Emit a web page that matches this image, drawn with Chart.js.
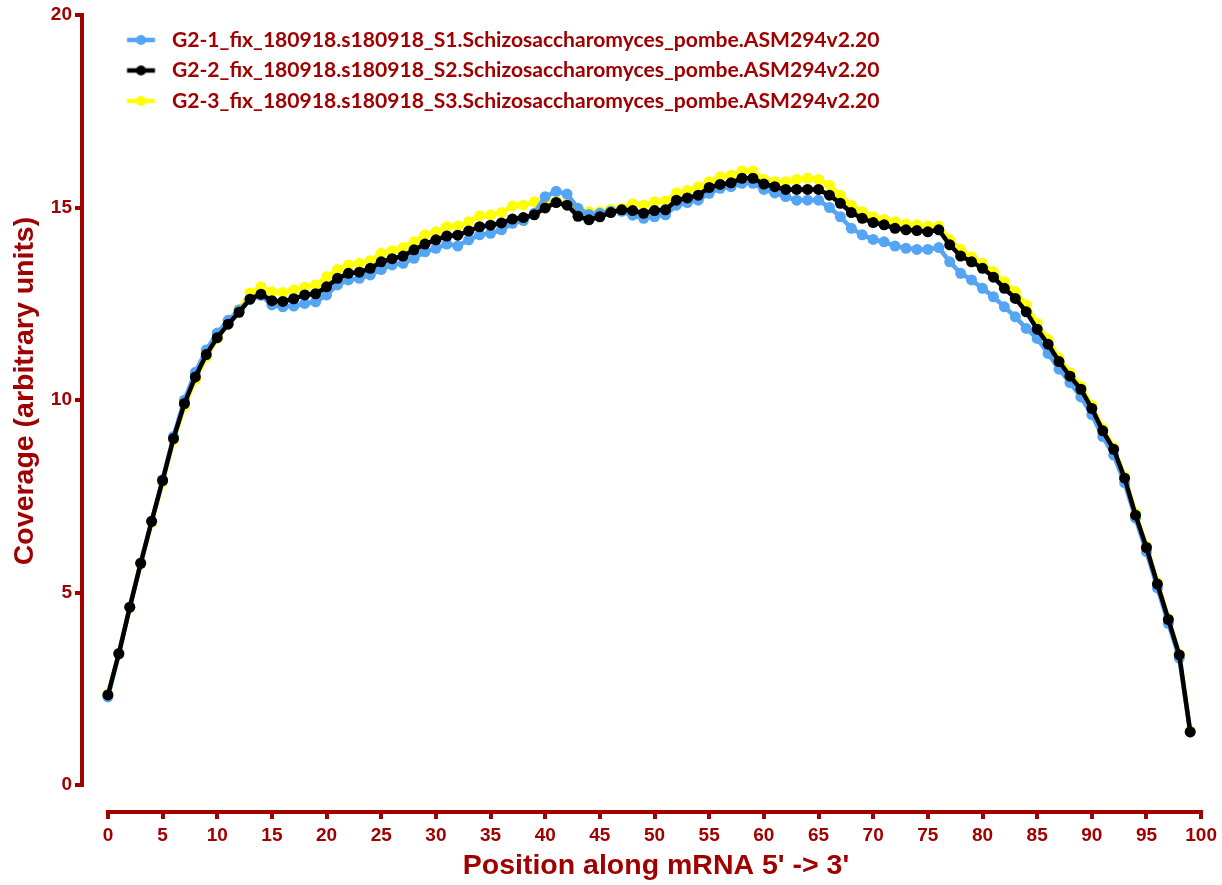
<!DOCTYPE html>
<html><head><meta charset="utf-8">
<script src="https://cdn.jsdelivr.net/npm/chart.js@4"></script>
<style>html,body{margin:0;padding:0;background:#fff}#wrap{width:1222px;height:885px;position:relative}</style>
</head><body><div id="wrap"><canvas id="c" width="1222" height="885"></canvas></div>
<script>
const positions = [0,1,2,3,4,5,6,7,8,9,10,11,12,13,14,15,16,17,18,19,20,21,22,23,24,25,26,27,28,29,30,31,32,33,34,35,36,37,38,39,40,41,42,43,44,45,46,47,48,49,50,51,52,53,54,55,56,57,58,59,60,61,62,63,64,65,66,67,68,69,70,71,72,73,74,75,76,77,78,79,80,81,82,83,84,85,86,87,88,89,90,91,92,93,94,95,96,97,98,99];

const seriesLabels = [
  "G2-1_fix_180918.s180918_S1.Schizosaccharomyces_pombe.ASM294v2.20",
  "G2-2_fix_180918.s180918_S2.Schizosaccharomyces_pombe.ASM294v2.20",
  "G2-3_fix_180918.s180918_S3.Schizosaccharomyces_pombe.ASM294v2.20"
];

const coverageS1 = [2.29,3.42,4.62,5.77,6.85,7.93,9.05,10.00,10.72,11.30,
11.74,12.07,12.34,12.62,12.72,12.47,12.42,12.44,12.51,12.55,
12.73,12.99,13.12,13.16,13.25,13.39,13.51,13.55,13.68,13.85,
13.94,14.05,14.00,14.16,14.29,14.33,14.42,14.59,14.66,14.85,
15.28,15.42,15.35,14.98,14.82,14.85,14.90,14.90,14.80,14.72,
14.76,14.81,15.06,15.13,15.19,15.37,15.50,15.54,15.63,15.63,
15.47,15.38,15.28,15.19,15.19,15.19,15.00,14.76,14.46,14.29,
14.17,14.11,14.00,13.94,13.91,13.91,13.96,13.59,13.29,13.12,
12.90,12.68,12.42,12.16,11.86,11.60,11.21,10.80,10.45,10.08,
9.62,9.05,8.57,7.85,6.93,6.06,5.12,4.20,3.30,1.38];

const coverageS2 = [2.34,3.41,4.62,5.76,6.85,7.91,9.00,9.91,10.60,11.18,
11.62,11.97,12.28,12.62,12.75,12.58,12.56,12.63,12.73,12.76,
12.94,13.16,13.29,13.32,13.42,13.59,13.67,13.74,13.90,14.05,
14.16,14.26,14.28,14.39,14.50,14.54,14.60,14.70,14.74,14.81,
14.99,15.13,15.06,14.77,14.68,14.76,14.87,14.94,14.92,14.85,
14.92,14.94,15.19,15.25,15.32,15.52,15.60,15.64,15.76,15.76,
15.61,15.54,15.47,15.47,15.47,15.47,15.32,15.11,14.87,14.72,
14.61,14.55,14.46,14.42,14.40,14.37,14.42,14.03,13.74,13.59,
13.42,13.19,12.90,12.64,12.29,11.84,11.45,11.00,10.62,10.28,
9.78,9.20,8.72,7.97,7.01,6.17,5.22,4.30,3.38,1.38];

const coverageS3 = [2.36,3.41,4.60,5.74,6.82,7.87,8.96,9.84,10.53,11.12,
11.60,11.98,12.36,12.78,12.94,12.81,12.79,12.86,12.93,12.99,
13.20,13.39,13.51,13.55,13.62,13.81,13.88,13.96,14.11,14.29,
14.37,14.50,14.52,14.63,14.78,14.81,14.87,15.04,15.06,15.15,
15.12,15.16,15.10,14.85,14.89,14.89,14.95,14.98,15.10,15.06,
15.15,15.17,15.38,15.44,15.54,15.67,15.80,15.84,15.95,15.95,
15.73,15.67,15.67,15.73,15.76,15.73,15.58,15.32,15.06,14.89,
14.76,14.69,14.63,14.57,14.55,14.52,14.52,14.16,13.91,13.72,
13.55,13.33,13.07,12.81,12.47,11.99,11.57,11.09,10.71,10.36,
9.86,9.26,8.76,8.01,7.05,6.20,5.25,4.32,3.40,1.41];

const xTickValues = [0,5,10,15,20,25,30,35,40,45,50,55,60,65,70,75,80,85,90,95,100];
const yTickValues = [0,5,10,15,20];
const xTitle = "Position along mRNA 5' -> 3'";
const yTitle = "Coverage (arbitrary units)";

const RED = '#A00000';
const AXIS_FONT = "'Liberation Sans', Arial, sans-serif";
const LEGEND_FONT = "Lato, 'Open Sans', sans-serif";
const colors = ['#55A5F5', '#000000', '#FFFF00'];
const drawOrder = [1, 0, 2];

// legend font sized so that the first label spans ~708px
const mctx = document.createElement('canvas').getContext('2d');
mctx.font = "bold 100px " + LEGEND_FONT;
const legendSize = 100 * 708 / mctx.measureText(seriesLabels[0]).width;
const legendPad = 30.5 - legendSize;
const boxW = Math.round(90 - legendPad - legendSize / 2);
const legendX = 82 + legendPad;

function legendSymbol(color) {
  const cv = document.createElement('canvas');
  cv.width = boxW; cv.height = 12;
  const g = cv.getContext('2d');
  const x1 = 127 - legendX, x2 = 155 - legendX;
  g.strokeStyle = color; g.lineWidth = 4.5;
  g.beginPath(); g.moveTo(x1, 6); g.lineTo(x2, 6); g.stroke();
  g.fillStyle = color; g.beginPath(); g.arc((x1 + x2) / 2, 6, 5, 0, Math.PI * 2); g.fill();
  return cv;
}
const symbols = colors.map(legendSymbol);

const seriesValues = [coverageS1, coverageS2, coverageS3];
const datasets = seriesValues.map((vals, i) => ({
  label: seriesLabels[i],
  data: positions.map((p, j) => ({x: p, y: vals[j]})),
  borderColor: colors[i],
  backgroundColor: colors[i],
  pointBackgroundColor: colors[i],
  pointBorderColor: colors[i],
  pointBorderWidth: 0,
  pointRadius: 5.5,
  borderWidth: 4.5,
  tension: 0,
  fill: false,
  order: drawOrder[i],
  clip: false
}));

const axisPlugin = {
  id: 'axisLines',
  beforeDatasetsDraw(chart) {
    const {ctx, chartArea, scales} = chart;
    ctx.save();
    ctx.strokeStyle = RED; ctx.lineWidth = 4; ctx.lineCap = 'square';
    ctx.beginPath();
    ctx.moveTo(chartArea.left, scales.y.getPixelForValue(yTickValues[0]));
    ctx.lineTo(chartArea.left, scales.y.getPixelForValue(yTickValues[yTickValues.length - 1]));
    ctx.stroke();
    ctx.beginPath();
    ctx.moveTo(scales.x.getPixelForValue(xTickValues[0]), chartArea.bottom);
    ctx.lineTo(scales.x.getPixelForValue(xTickValues[xTickValues.length - 1]), chartArea.bottom);
    ctx.stroke();
    ctx.restore();
  },
  afterDraw(chart) {
    const {ctx} = chart;
    ctx.save();
    ctx.fillStyle = RED;
    ctx.font = "bold 28.5px " + AXIS_FONT;
    ctx.textAlign = 'center'; ctx.textBaseline = 'middle';
    ctx.fillText(xTitle, 656, 866);
    ctx.translate(25, 391);
    ctx.rotate(-Math.PI / 2);
    ctx.fillText(yTitle, 0, 0);
    ctx.restore();
  }
};

new Chart(document.getElementById('c'), {
  type: 'line',
  data: {datasets},
  options: {
    responsive: false,
    animation: false,
    devicePixelRatio: 1,
    layout: {padding: {top: 15, right: 19, left: 0, bottom: 0}},
    plugins: {
      tooltip: {enabled: false},
      legend: {
        position: 'chartArea',
        align: 'start',
        title: {display: true, text: ' ', font: {size: 1}, padding: {top: 0, bottom: 18.8}},
        labels: {
          usePointStyle: true,
          pointStyleWidth: boxW,
          padding: legendPad,
          color: RED,
          font: {family: LEGEND_FONT, size: legendSize, weight: 'bold'},
          sort: (a, b) => a.datasetIndex - b.datasetIndex,
          generateLabels(chart) {
            const items = Chart.defaults.plugins.legend.labels.generateLabels(chart);
            items.forEach(it => { it.pointStyle = symbols[it.datasetIndex]; });
            return items;
          }
        }
      }
    },
    scales: {
      x: {
        type: 'linear',
        min: -2.37, max: 100,
        afterBuildTicks: s => { s.ticks = xTickValues.map(v => ({value: v})); },
        afterFit: s => { s.height = 73; },
        border: {display: false},
        grid: {display: true, drawOnChartArea: false, drawTicks: true, tickLength: 7, lineWidth: 4, color: RED},
        ticks: {color: RED, font: {family: AXIS_FONT, size: 19, weight: 'bold'}, padding: 5, maxRotation: 0, autoSkip: false}
      },
      y: {
        type: 'linear',
        min: -0.70, max: 20,
        afterBuildTicks: s => { s.ticks = yTickValues.map(v => ({value: v})); },
        afterFit: s => { s.width = 82; },
        border: {display: false},
        grid: {display: true, drawOnChartArea: false, drawTicks: true, tickLength: 7, lineWidth: 4, color: RED},
        ticks: {color: RED, font: {family: AXIS_FONT, size: 19, weight: 'bold'}, padding: 3, autoSkip: false}
      }
    }
  },
  plugins: [axisPlugin]
});
</script>
</body></html>
